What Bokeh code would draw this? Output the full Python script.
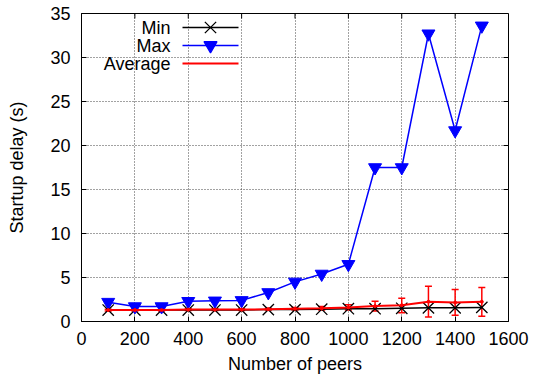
from bokeh.plotting import figure
from bokeh.models import ColumnDataSource, Whisker, Range1d, Label, FixedTicker, TeeHead
from bokeh.embed import file_html
from bokeh.resources import INLINE

peers = [100, 200, 300, 400, 500, 600, 700, 800, 900, 1000, 1100, 1200, 1300, 1400, 1500]
min_delay = [1.3, 1.3, 1.3, 1.3, 1.3, 1.3, 1.35, 1.35, 1.4, 1.45, 1.45, 1.5, 1.55, 1.55, 1.6]
max_delay = [2.2, 1.7, 1.7, 2.3, 2.35, 2.4, 3.3, 4.5, 5.4, 6.5, 17.5, 17.5, 32.7, 21.7, 33.6]
avg_delay = [1.3, 1.3, 1.3, 1.35, 1.35, 1.35, 1.4, 1.45, 1.5, 1.6, 1.75, 1.85, 2.25, 2.15, 2.25]
avg_low = [1.2, 1.2, 1.2, 1.25, 1.25, 1.25, 1.3, 1.3, 1.3, 1.3, 1.2, 1.0, 0.5, 0.7, 0.6]
avg_high = [1.4, 1.4, 1.4, 1.45, 1.45, 1.45, 1.5, 1.6, 1.7, 1.9, 2.3, 2.65, 4.0, 3.65, 3.85]
series_names = ["Min", "Max", "Average"]
x_ticks = [0, 200, 400, 600, 800, 1000, 1200, 1400, 1600]
y_ticks = [0, 5, 10, 15, 20, 25, 30, 35]

FONT = "Liberation Sans"
FS = "18px"
X0, X1, Y0, Y1 = 0, 1600, 0, 35
FW, FH = 427.0, 308.0  # frame size in pixels

p = figure(width=533, height=382, output_backend="svg", toolbar_location=None,
           x_range=Range1d(X0, X1), y_range=Range1d(Y0, Y1),
           min_border_left=81, min_border_right=25, min_border_top=13, min_border_bottom=61)

p.outline_line_color = "black"
p.outline_line_width = 1
p.background_fill_color = "white"

for ax in p.xaxis + p.yaxis:
    ax.major_tick_in = 5
    ax.major_tick_out = 0
    ax.major_tick_line_color = "black"
    ax.minor_tick_line_color = None
    ax.axis_line_color = "black"
    ax.major_label_text_font = FONT
    ax.major_label_text_font_size = FS
    ax.major_label_text_color = "black"
    ax.axis_label_text_font = FONT
    ax.axis_label_text_font_size = FS
    ax.axis_label_text_font_style = "normal"
    ax.axis_label_text_color = "black"

p.xaxis.ticker = FixedTicker(ticks=x_ticks)
p.yaxis.ticker = FixedTicker(ticks=y_ticks)
p.xaxis.axis_label = "Number of peers"
p.yaxis.axis_label = "Startup delay (s)"
p.xaxis.major_label_standoff = 10
p.yaxis.major_label_standoff = 11
p.xaxis.axis_label_standoff = 6
p.yaxis.axis_label_standoff = 20

p.xgrid.ticker = FixedTicker(ticks=x_ticks)
p.ygrid.ticker = FixedTicker(ticks=y_ticks)
for g in (p.xgrid[0], p.ygrid[0]):
    g.grid_line_color = "#444444"
    g.grid_line_dash = "1 2"
    g.grid_line_width = 1

# mirrored inward ticks on top and right edges
tx = 5 / FW * (X1 - X0)
ty = 5 / FH * (Y1 - Y0)
p.segment(x0=x_ticks, y0=[Y1] * len(x_ticks), x1=x_ticks, y1=[Y1 - ty] * len(x_ticks),
          line_color="black", line_width=1)
p.segment(x0=[X1] * len(y_ticks), y0=y_ticks, x1=[X1 - tx] * len(y_ticks), y1=y_ticks,
          line_color="black", line_width=1)

src = ColumnDataSource(dict(x=peers, mn=min_delay, mx=max_delay, avg=avg_delay, lo=avg_low, hi=avg_high))

# Min
p.line("x", "mn", source=src, color="black", line_width=1.5)
p.scatter("x", "mn", source=src, marker="x", size=16, line_color="black", line_width=1.3)
# Max
p.line("x", "mx", source=src, color="#0000ff", line_width=1.5)
p.scatter("x", "mx", source=src, marker="inverted_triangle", size=13, fill_color="#0000ff", line_color="#0000ff")
# Average
p.line("x", "avg", source=src, color="#ff0000", line_width=2)
p.scatter("x", "avg", source=src, marker="circle", size=3, fill_color="#ff0000", line_color="#ff0000")
wh = Whisker(source=src, base="x", lower="lo", upper="hi", line_color="#ff0000", line_width=1.5,
             upper_head=TeeHead(size=7, line_color="#ff0000", line_width=1.5),
             lower_head=TeeHead(size=7, line_color="#ff0000", line_width=1.5))
p.add_layout(wh)

# gnuplot-style legend (label, then sample), placed via frame pixel offsets
def dx(px):
    return X0 + px / FW * (X1 - X0)
def dy(py):
    return Y1 - py / FH * (Y1 - Y0)

rows = [14, 32, 50]
label_x = 89
seg_x0, seg_x1, mark_x = 101, 157, 129
styles = [("black", "x", 1.5, 16), ("#0000ff", "inverted_triangle", 1.5, 13), ("#ff0000", None, 2, 0)]
for name, py, (col, mk, lw, sz) in zip(series_names, rows, styles):
    p.add_layout(Label(x=dx(label_x), y=dy(py), text=name, text_align="right", text_baseline="middle",
                       text_font=FONT, text_font_size=FS, text_color="black"))
    p.line([dx(seg_x0), dx(seg_x1)], [dy(py), dy(py)], color=col, line_width=lw)
    if mk:
        p.scatter([dx(mark_x)], [dy(py)], marker=mk, size=sz, color=col, line_width=1.3)

open("out.html", "w").write(file_html(p, INLINE))
